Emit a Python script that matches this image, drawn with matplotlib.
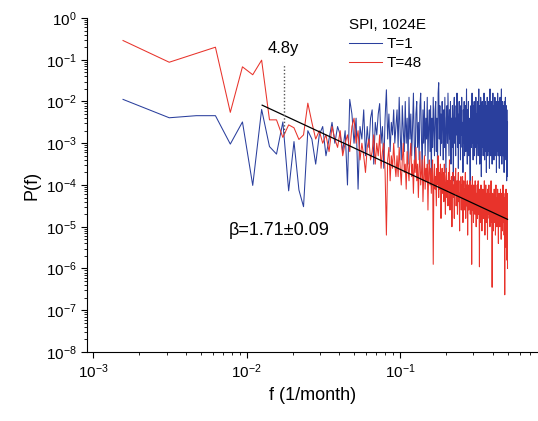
import numpy as np
import matplotlib
matplotlib.use("Agg")
import matplotlib.pyplot as plt
from matplotlib.ticker import LogLocator, NullFormatter

plt.rcParams['font.family'] = ['Liberation Sans', 'DejaVu Sans']

# frequencies k/640 (1/month), k = 1..320
n_months = 640
k = np.arange(1, 321)
freq = k / n_months

# log10 P(f), T=1 (blue)
blue_log = [
    -1.95, -2.39, -2.34, -2.34, -3.02, -2.49, -4.01, -2.19, -3.08, -3.26,
    -2.49, -4.14, -2.96, -4.12, -4.52,
    -2.7, -2.9, -3.5, -2.8, -2.6, -3.3, -2.9, -2.5, -3.0, -2.6,
    -2.8, -3.2, -2.7, -4.0, -1.95, -2.3, -3.0, -2.4, -4.1, -2.6,
    -2.9, -2.2, -3.3, -2.6, -3.1, -2.4, -2.2, -3.5, -2.5, -2.8,
    -2.3, -2.05, -3.0, -2.6, -3.6, -2.4, -1.72, -2.9, -2.3, -3.2,
    -2.5, -2.8, -2.2, -3.0, -2.6,
    -2.2, -3.1, -1.9, -2.8, -3.4, -2.1, -2.7, -3.2, -2.0, -3.0, -2.4, -3.5, -1.9, -2.9, -2.3, -3.3, -2.6, -1.8, -3.0, -3.6,
    -2.3, -2.0, -3.1, -2.5, -3.4, -2.1, -1.8, -2.9, -3.7, -2.2, -3.0, -2.0, -3.3, -2.4, -2.9, -1.9, -3.5, -2.6, -2.2, -3.2,
    -2.1, -3.8, -2.4, -3.1, -1.9, -2.7, -3.3, -2.2, -2.0, -3.2, -2.4, -3.6, -1.8, -1.55, -2.9, -2.1, -3.3, -2.3, -3.0, -2.0,
    -2.5, -3.4, -2.2, -3.1, -1.9, -2.8, -3.7, -2.4, -2.1, -3.0, -1.8, -2.6, -3.3, -2.2, -2.9, -2.0, -3.5, -2.4, -3.1, -2.1,
    -2.6, -3.9, -2.2, -1.9, -3.0, -2.4, -3.3, -2.1, -2.8, -1.8, -3.1, -2.3, -3.6, -2.5, -2.0, -3.0, -2.4, -3.4, -2.1, -2.8,
    -1.9, -3.1, -2.5, -3.7, -2.2, -3.0, -2.0, -3.3, -2.4, -2.1, -3.2, -2.6, -1.7, -2.8, -3.5, -2.2, -3.0, -2.0, -3.3, -2.4,
    -2.7, -3.6, -4.2, -2.5, -2.1, -3.1, -2.3, -1.8, -3.0, -2.4, -3.4, -2.1, -2.8, -2.0, -3.3, -2.5, -2.2, -3.1, -1.9, -2.8,
    -3.5, -2.3, -3.0, -2.0, -2.6, -3.3, -2.2, -1.7, -2.9, -2.1, -3.5, -2.4, -3.0, -1.9, -2.6, -3.8, -2.2, -3.1, -2.0, -2.8,
    -2.3, -3.3, -2.1, -3.0, -1.8, -2.6, -3.4, -2.2, -2.8, -2.0, -3.2, -2.4, -3.7, -2.1, -3.0, -1.9, -2.6, -3.3, -2.2, -2.9,
    -2.0, -3.2, -2.4, -3.6, -2.1, -1.7, -2.9, -2.2, -3.3, -2.5, -2.0, -3.1, -2.4, -3.5, -2.1, -2.8, -1.8, -3.2, -2.3, -2.7,
    -3.4, -2.1, -3.0, -2.4, -1.9, -3.3, -2.6, -2.2, -3.2, -2.0, -3.7, -2.4, -2.9, -2.1, -3.2, -1.8, -2.6, -3.3, -2.2, -3.0,
    -2.0, -2.8, -3.6, -2.4, -3.1, -1.9, -2.6, -3.3, -2.2, -3.0, -2.1, -1.7, -2.8, -3.5, -2.4, -2.0, -3.0, -2.3, -3.3, -2.6,
    -2.1, -3.1, -2.4, -3.7, -2.0, -2.8, -2.3, -3.3, -2.6, -1.9, -3.0, -2.4, -3.4, -2.1, -2.8, -3.9, -2.2, -3.1, -3.8, -2.5,
]

# log10 P(f), T=48 (red)
red_log = [
    -0.54, -1.06, -0.85, -0.70, -2.26, -1.17, -1.36, -1.01, -2.44, -2.44,
    -2.86, -2.56, -2.63, -2.91, -2.8,
    -2.04, -2.5, -2.9, -2.7, -3.0, -2.8, -3.2, -2.6, -2.9, -3.1,
    -2.7, -3.3, -3.0, -2.8, -3.2, -2.6, -2.4, -3.0, -2.7, -3.4,
    -3.0, -3.3, -3.7, -3.1, -2.9, -3.4, -3.2, -2.8, -3.5, -3.0,
    -3.3, -2.8, -3.6, -3.2, -3.0, -3.7, -5.2, -3.4, -3.1, -3.9,
    -3.3, -3.6, -3.0, -3.5, -3.8,
    -3.3, -3.8, -3.1, -3.6, -4.0, -3.4, -3.0, -3.7, -3.5, -4.1, -3.2, -3.6, -3.9, -3.3, -3.0, -3.8, -3.5, -4.2, -3.4, -3.7,
    -3.1, -3.9, -3.5, -4.3, -3.6, -3.2, -4.0, -3.7, -3.4, -4.4, -3.8, -3.3, -4.1, -3.6, -3.9, -3.5, -4.6, -3.7, -3.4, -4.0,
    -3.6, -4.2, -3.7, -3.4, -5.9, -3.9, -3.5, -4.1, -3.8, -4.5, -3.6, -4.0, -3.3, -4.3, -3.7, -4.1, -3.5, -4.8, -3.9, -3.6,
    -4.2, -3.7, -4.4, -3.5, -4.0, -4.7, -3.8, -3.6, -4.3, -3.9, -4.5, -3.7, -4.1, -3.4, -4.6, -3.9, -4.2, -3.8, -5.0, -4.0,
    -3.7, -4.3, -4.0, -4.8, -3.8, -4.2, -3.6, -4.5, -4.1, -3.9, -4.7, -4.0, -3.7, -4.4, -4.2, -5.1, -3.9, -4.3, -3.8, -4.6,
    -4.0, -4.4, -3.8, -4.9, -4.2, -3.9, -4.6, -4.1, -4.3, -3.7, -4.8, -4.0, -4.5, -4.2, -3.9, -5.2, -4.3, -4.0, -4.6, -4.1,
    -4.4, -3.9, -4.7, -4.2, -4.0, -4.5, -5.9, -4.3, -3.8, -4.6, -4.2, -4.9, -4.0, -4.4, -4.1, -4.7, -3.9, -4.5, -4.3, -5.0,
    -4.2, -4.6, -4.0, -4.8, -4.4, -3.9, -4.7, -4.3, -4.5, -5.96, -4.1, -4.6, -4.3, -4.9, -4.0, -4.5, -4.2, -5.1, -4.4, -4.7,
    -4.1, -4.5, -4.8, -4.2, -4.6, -3.9, -4.4, -5.2, -4.3, -4.7, -4.0, -4.5, -4.9, -4.2, -4.6, -4.4, -5.3, -4.1, -4.7, -4.3,
    -4.5, -4.0, -4.8, -4.3, -4.6, -5.0, -4.2, -4.7, -4.4, -3.9, -4.9, -4.5, -4.3, -6.45, -4.6, -4.2, -4.8, -4.4, -5.1, -4.3,
    -4.6, -4.1, -4.9, -4.4, -4.7, -4.2, -5.2, -4.5, -4.0, -4.8, -4.4, -4.6, -5.0, -4.3, -4.7, -4.1, -4.9, -4.5, -5.4, -4.4,
    -4.6, -4.2, -4.8, -4.5, -5.0, -4.3, -4.7, -4.1, -4.9, -4.4, -5.3, -4.6, -4.2, -4.8, -4.5, -5.1, -4.3, -4.7, -4.0, -4.9,
    -4.5, -4.8, -4.2, -5.2, -4.6, -4.4, -6.63, -4.7, -4.3, -5.0, -4.5, -4.8, -4.1, -5.5, -4.6, -4.4, -5.8, -4.7, -4.2, -6.0,
]

p_blue = 10.0 ** np.array(blue_log)
p_red = 10.0 ** np.array(red_log)

# power-law fit
beta = 1.71
beta_err = 0.09
fit_f = np.array([0.0126, 0.5])
fit_mid_f = 0.0788
fit_mid_p = 10 ** -3.45
fit_p = fit_mid_p * (fit_f / fit_mid_f) ** (-beta)

# 4.8 year marker
period_months = 4.8 * 12
mark_f = 1.0 / period_months

fig = plt.figure(figsize=(5.38, 4.21), dpi=100)
ax = fig.add_axes([0.1617, 0.1639, 0.8383, 0.7934])

ax.plot(freq, p_blue, color='#2a3f9d', lw=0.75, label='T=1')
ax.plot(freq, p_red, color='#e8332b', lw=0.75, label='T=48')
ax.plot(fit_f, fit_p, color='black', lw=0.9)
ax.plot([mark_f, mark_f], [10 ** -2.75, 10 ** -1.1], color='#555555', lw=1.0, ls=(0, (1, 1.5)))

ax.text(mark_f, 10 ** -0.72, '4.8y', fontsize=12, ha='center', va='center')
ax.text(0.0076, 10 ** -5.08, 'β=%.2f±%.2f' % (beta, beta_err), fontsize=13, ha='left', va='center')

ax.set_xscale('log')
ax.set_yscale('log')
ax.set_xlim(9.1e-4, 0.79)
ax.set_ylim(1e-8, 1)
ax.set_yticks([10.0 ** e for e in range(-8, 1)])
ax.set_xticks([1e-3, 1e-2, 1e-1])
ax.xaxis.set_minor_locator(LogLocator(base=10, subs=np.arange(2, 10), numticks=50))
ax.yaxis.set_minor_locator(LogLocator(base=10, subs=np.arange(2, 10), numticks=50))
ax.xaxis.set_minor_formatter(NullFormatter())
ax.yaxis.set_minor_formatter(NullFormatter())

ax.spines['top'].set_visible(False)
ax.spines['right'].set_visible(False)
ax.tick_params(which='major', direction='out', length=4, width=0.8, labelsize=11)
ax.tick_params(which='minor', direction='out', length=2.5, width=0.6)

ax.set_xlabel('f (1/month)', fontsize=13, labelpad=4)
ax.set_ylabel('P(f)', fontsize=13, labelpad=4)

leg = ax.legend(title='SPI, 1024E', loc='upper left', bbox_to_anchor=(341 / 538, 1 - 10 / 421),
                bbox_transform=fig.transFigure, frameon=False, fontsize=11, title_fontsize=11,
                handlelength=2.2, handletextpad=0.3, borderpad=0, labelspacing=0.35, alignment='left')

fig.savefig('out.png', dpi=100)
